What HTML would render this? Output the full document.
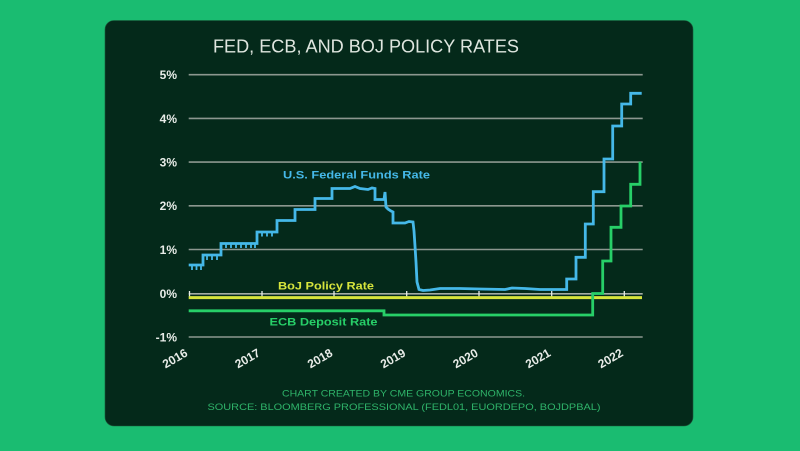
<!DOCTYPE html>
<html><head><meta charset="utf-8"><style>
html,body{margin:0;padding:0;background:#1abc71;}
svg{display:block;}
</style></head><body>
<svg width="800" height="451" viewBox="0 0 800 451" xmlns="http://www.w3.org/2000/svg" font-family="Liberation Sans, sans-serif">
<rect x="0" y="0" width="800" height="451" fill="#1abc71"/>
<rect x="105" y="20.5" width="588" height="405.5" rx="9" fill="#04291a" stroke="#1d5a3a" stroke-width="0.6"/>
<text x="366" y="52.5" font-size="18" fill="#dfe6df" text-anchor="middle" textLength="306" lengthAdjust="spacingAndGlyphs">FED, ECB, AND BOJ POLICY RATES</text>
<g stroke="#8c978f" stroke-width="1.6">
<line x1="188.7" y1="74.7" x2="642.7" y2="74.7"/>
<line x1="188.7" y1="118.4" x2="642.7" y2="118.4"/>
<line x1="188.7" y1="162.1" x2="642.7" y2="162.1"/>
<line x1="188.7" y1="205.8" x2="642.7" y2="205.8"/>
<line x1="188.7" y1="249.5" x2="642.7" y2="249.5"/>
<line x1="188.7" y1="337" x2="642.7" y2="337"/>
</g>
<line x1="188.7" y1="293.8" x2="642.7" y2="293.8" stroke="#a3aca5" stroke-width="1.6"/>
<g stroke="#e8ece8" stroke-width="1.3">
<line x1="189.5" y1="291" x2="189.5" y2="297"/>
<line x1="262" y1="291" x2="262" y2="297"/>
<line x1="334" y1="291" x2="334" y2="297"/>
<line x1="406.7" y1="291" x2="406.7" y2="297"/>
<line x1="479" y1="291" x2="479" y2="297"/>
<line x1="551.7" y1="291" x2="551.7" y2="297"/>
<line x1="624.3" y1="291" x2="624.3" y2="297"/>
</g>
<g font-size="12" font-weight="bold" fill="#e8ece8" text-anchor="end">
<text x="177" y="79">5%</text>
<text x="177" y="123">4%</text>
<text x="177" y="166.5">3%</text>
<text x="177" y="210">2%</text>
<text x="177" y="254">1%</text>
<text x="177" y="298">0%</text>
<text x="177" y="341.5">-1%</text>
</g>
<g font-size="12" font-weight="bold" fill="#e8ece8" text-anchor="middle">
<text transform="translate(177,362) rotate(-30)">2016</text>
<text transform="translate(249.5,362) rotate(-30)">2017</text>
<text transform="translate(322,362) rotate(-30)">2018</text>
<text transform="translate(395,362) rotate(-30)">2019</text>
<text transform="translate(467.5,362) rotate(-30)">2020</text>
<text transform="translate(540,362) rotate(-30)">2021</text>
<text transform="translate(612.5,362) rotate(-30)">2022</text>
</g>
<!-- BoJ -->
<line x1="188.7" y1="297.6" x2="642" y2="297.6" stroke="#d6e43c" stroke-width="3"/>
<!-- ECB -->
<path d="M188.7,310.8 H384 V315 H592.7 V293.5 H602.7 V261 H611 V227.3 H621 V206 H630.7 V184.3 H640 V161.7" fill="none" stroke="#27cf68" stroke-width="2.8"/>
<!-- Fed -->
<path d="M188.7,265 H203 V255 H221 V243.5 H257 V232 H277 V220.5 H295 V209.5 H315 V198.5 H332 V188.5 L350,188.5 L355,186.5 L360,188.5 L368,189.5 L372,188 L375,188.5 V199.5 H384 L385,192 L386,207 L388,209 L391,211 L393,212 V223 H405 L409,221.5 L413,222 L414,231 L415,246 L416,262 L417,282 L419,289.5 L423,290.5 L430,290 L440,288.5 L460,288.5 L480,289 L505,289.5 L512,288 L525,288.5 L540,289.5 L566.7,289.5 V279 H576 V257.3 H585.3 V224 H593.3 V191.7 H604 V159 H612.7 V126 H621.7 V104 H630.7 V93.3 H641.7" fill="none" stroke="#45b8e8" stroke-width="2.8" stroke-linejoin="miter"/>
<g stroke="#45b8e8" stroke-width="1.8">
<line x1="192" y1="265" x2="192" y2="270"/><line x1="196.5" y1="265" x2="196.5" y2="270"/><line x1="201" y1="265" x2="201" y2="270"/>
<line x1="207" y1="255" x2="207" y2="260"/><line x1="212" y1="255" x2="212" y2="260"/><line x1="217" y1="255" x2="217" y2="260"/>
<line x1="226" y1="243.5" x2="226" y2="248"/><line x1="231" y1="243.5" x2="231" y2="248"/><line x1="236" y1="243.5" x2="236" y2="248"/><line x1="241" y1="243.5" x2="241" y2="248"/><line x1="246" y1="243.5" x2="246" y2="248"/><line x1="251" y1="243.5" x2="251" y2="248"/><line x1="255" y1="243.5" x2="255" y2="248"/>
<line x1="262" y1="232" x2="262" y2="236.5"/><line x1="267" y1="232" x2="267" y2="236.5"/><line x1="272" y1="232" x2="272" y2="236.5"/>
</g>
<g font-size="11" font-weight="bold">
<text x="283" y="178.5" fill="#45b8e8" textLength="147" lengthAdjust="spacingAndGlyphs">U.S. Federal Funds Rate</text>
<text x="278" y="289.3" fill="#d6e43c" textLength="96" lengthAdjust="spacingAndGlyphs">BoJ Policy Rate</text>
<text x="269.5" y="325.5" fill="#27cf68" textLength="108" lengthAdjust="spacingAndGlyphs">ECB Deposit Rate</text>
</g>
<g font-size="9" fill="#2fb46a" text-anchor="middle">
<text x="403.5" y="396.5" textLength="243" lengthAdjust="spacingAndGlyphs">CHART CREATED BY CME GROUP ECONOMICS.</text>
<text x="404" y="410" textLength="393" lengthAdjust="spacingAndGlyphs">SOURCE: BLOOMBERG PROFESSIONAL (FEDL01, EUORDEPO, BOJDPBAL)</text>
</g>
</svg>
</body></html>
